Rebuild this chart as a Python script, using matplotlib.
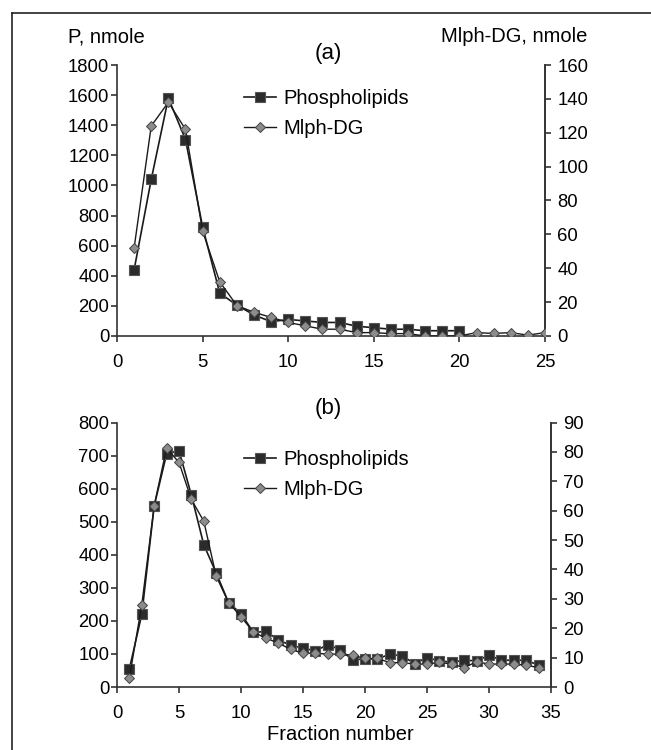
import matplotlib
matplotlib.use("Agg")
import matplotlib.pyplot as plt
from matplotlib.lines import Line2D

plt.rcParams['font.family'] = ['Liberation Sans', 'DejaVu Sans']
plt.rcParams['font.size'] = 13.3

# panel (a) data
frac_a_p = list(range(1, 21))
phospho_a = [440, 1040, 1580, 1305, 725, 285, 205, 140, 95, 110,
             100, 90, 90, 65, 55, 45, 45, 35, 35, 35]
frac_a_m = list(range(1, 26))
mlph_a = [52, 124, 138, 122, 62, 32, 18, 14, 11, 8,
          6, 4, 4, 2, 2, 1.4, 1.4, 0, 0, 0,
          2, 1.5, 2, 0.5, 2]

# panel (b) data
frac_b = list(range(1, 35))
phospho_b = [55, 220, 548, 705, 715, 580, 430, 345, 255, 222,
             165, 168, 143, 126, 118, 109, 128, 113, 82, 85,
             85, 99, 94, 71, 89, 79, 75, 81, 79, 96,
             81, 81, 81, 66]
mlph_b = [3.2, 28, 61.7, 81.3, 76.4, 63.8, 56.4, 37.7, 28.7, 23.9,
          18.7, 16.6, 15, 12.8, 11.5, 11.5, 11.2, 11.2, 10.8, 9.7,
          9.7, 8.3, 8.3, 7.8, 7.8, 8.4, 7.8, 6.6, 8.6, 7.8,
          7.8, 7.8, 7.4, 6.6]

axis_col = '#333333'
tick_fs = 13.3
text_fs = 14.5


def style_axes(ax, ax2):
    for a in (ax, ax2):
        a.spines['top'].set_visible(False)
        for s in a.spines.values():
            s.set_color(axis_col)
            s.set_linewidth(1.2)
        a.tick_params(direction='out', length=4, width=1.2, color=axis_col,
                      labelsize=tick_fs)
    ax2.spines['left'].set_visible(False)
    ax2.spines['bottom'].set_visible(False)
    ax.tick_params(axis='x', pad=9)
    ax.tick_params(axis='y', pad=1.5)
    ax2.tick_params(axis='y', pad=5)


def draw_panel(rect, xp, yp, xm, ym, xmax, ymax, y2max, yticks, y2ticks, xticks,
               legend_anchor):
    ax = fig.add_axes(rect)
    ax2 = ax.twinx()
    lp, = ax.plot(xp, yp, color='#1a1a1a', lw=1.2, marker='s', markersize=6.8,
                  markerfacecolor='#2b2b2b', markeredgecolor='#555555',
                  markeredgewidth=0.8, label='Phospholipids', zorder=3)
    lm, = ax2.plot(xm, ym, color='#1a1a1a', lw=1.0, marker='D', markersize=4.6,
                   markerfacecolor='#8c8c8c', markeredgecolor='#444444',
                   markeredgewidth=0.7, label='Mlph-DG', zorder=3)
    ax.set_xlim(0, xmax)
    ax.set_ylim(0, ymax)
    ax2.set_ylim(0, y2max)
    ax.set_xticks(xticks)
    ax.set_yticks(yticks)
    ax2.set_yticks(y2ticks)
    style_axes(ax, ax2)
    ax2.legend([lp, lm], ['Phospholipids', 'Mlph-DG'], loc='upper left',
               bbox_to_anchor=legend_anchor, frameon=False, borderpad=0,
               borderaxespad=0, handlelength=1.6, handletextpad=0.35,
               labelspacing=0.55, fontsize=text_fs)
    return ax, ax2


fig = plt.figure(figsize=(6.51, 7.5), dpi=100)

draw_panel([117 / 651, 1 - 336 / 750, 428 / 651, 271 / 750],
           frac_a_p, phospho_a, frac_a_m, mlph_a, 25, 1800, 160,
           list(range(0, 1801, 200)), list(range(0, 161, 20)), list(range(0, 26, 5)),
           (0.297, 0.91))

draw_panel([117 / 651, 1 - 687 / 750, 434 / 651, 264.5 / 750],
           frac_b, phospho_b, frac_b, mlph_b, 35, 800, 90,
           list(range(0, 801, 100)), list(range(0, 91, 10)), list(range(0, 36, 5)),
           (0.293, 0.895))

fig.text(68 / 651, 1 - 37 / 750, 'P, nmole', ha='left', va='center', fontsize=text_fs)
fig.text(587 / 651, 1 - 37 / 750, 'Mlph-DG, nmole', ha='right', va='center', fontsize=text_fs)
fig.text(328 / 651, 1 - 53 / 750, '(a)', ha='center', va='center', fontsize=16)
fig.text(328 / 651, 1 - 408 / 750, '(b)', ha='center', va='center', fontsize=16)
fig.text(340 / 651, 1 - 735 / 750, 'Fraction number', ha='center', va='center', fontsize=text_fs)

# outer frame (left and top edges)
fig.add_artist(Line2D([12 / 651, 12 / 651], [0, 1 - 13 / 750], transform=fig.transFigure,
                      color='#222222', lw=1.2))
fig.add_artist(Line2D([12 / 651, 1], [1 - 13 / 750, 1 - 13 / 750], transform=fig.transFigure,
                      color='#222222', lw=1.2))

fig.savefig('out.png', dpi=100)
